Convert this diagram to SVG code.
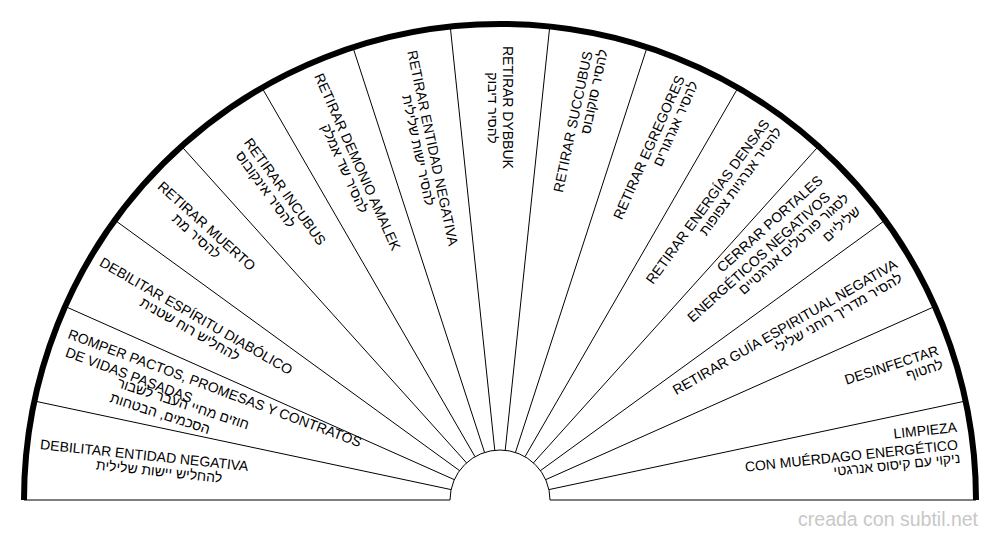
<svg xmlns="http://www.w3.org/2000/svg" width="1000" height="540" viewBox="0 0 1000 540">
<style>
.t{font-family:"Liberation Sans","DejaVu Sans",Arial,sans-serif;font-size:14px;fill:#000}
.s{text-anchor:start}.e{text-anchor:end}.m{text-anchor:middle}
.rad{stroke:#000;stroke-width:1;fill:none}
.base{stroke:#000;stroke-width:1;fill:none}
.rim{stroke:#000;stroke-width:6;fill:none}
.wm{font-family:"Liberation Sans",Arial,sans-serif;font-size:19.5px;fill:#c8c8c8;text-anchor:end}
</style>
<rect width="1000" height="540" fill="#fff"/>
<g id="frame">
<path class="base" d="M24 500H450M550 500H976"/>
<path class="base" d="M450 500A50 50 0 0 1 550 500"/>
</g>
<g id="connectors">
<path class="rad" d="M451.10 489.60L34.42 401.04M454.33 479.67L65.17 306.41M459.55 470.61L114.92 220.21M466.55 462.85L181.51 146.28M475 456.70L262 87.78M484.55 452.45L352.92 47.28M494.78 450.28L450.26 26.62M505.22 450.28L549.74 26.62M515.45 452.45L647.08 47.28M525 456.70L738 87.78M533.45 462.85L818.49 146.28M540.45 470.61L885.08 220.21M545.67 479.67L934.83 306.41M548.90 489.60L965.58 401.04"/>
</g>
<path id="rim" class="rim" d="M24 500A476 476 0 0 1 976 500"/>
<g id="n1" class="t" transform="translate(500 500) rotate(6)">
<text class="s" x="-463" y="-2.5">DEBILITAR ENTIDAD NEGATIVA</text>
<text class="m" x="-342" y="12">להחליש יישות שלילית</text>
</g>
<g id="n2" class="t">
<text class="s" transform="translate(67 338) rotate(20.5)">ROMPER PACTOS, PROMESAS Y CONTRATOS</text>
<text class="s" transform="translate(64.5 356) rotate(20.5)">DE VIDAS PASADAS</text>
<g transform="translate(500 500) rotate(18)">
<text class="m" x="-331" y="11">חוזים מחיי העבר לשבור</text>
<text class="m" x="-350" y="27.5">הסכמים, הבטחות</text>
</g>
</g>
<g id="n3" class="t" transform="translate(500 500) rotate(30)">
<text class="s" x="-465" y="-2.5">DEBILITAR ESPÍRITU DIABÓLICO</text>
<text class="m" x="-354" y="12">להחליש רוח שטנית</text>
</g>
<g id="n4" class="t" transform="translate(500 500) rotate(42)">
<text class="s" x="-464" y="-2.5">RETIRAR MUERTO</text>
<text class="m" x="-402" y="12">להסיר מת</text>
</g>
<g id="n5" class="t" transform="translate(500 500) rotate(54)">
<text class="s" x="-440" y="-2.5">RETIRAR INCUBUS</text>
<text class="m" x="-389" y="12">להסיר אינקובוס</text>
</g>
<g id="n6" class="t" transform="translate(500 500) rotate(66)">
<text class="s" x="-463" y="-2.5">RETIRAR DEMONIO AMALEK</text>
<text class="m" x="-366" y="12">להסיר שד אמלק</text>
</g>
<g id="n7" class="t" transform="translate(500 500) rotate(78)">
<text class="s" x="-458" y="-2.5">RETIRAR ENTIDAD NEGATIVA</text>
<text class="m" x="-359" y="12">להסיר ישות שלילית</text>
</g>
<g id="n8" class="t" transform="translate(500 500) rotate(90)">
<text class="s" x="-454" y="-2.5">RETIRAR DYBBUK</text>
<text class="m" x="-392" y="12">להסיר דיבוק</text>
</g>
<g id="n9" class="t" transform="translate(500 500) rotate(-78)">
<text class="e" x="457" y="-2.5">RETIRAR SUCCUBUS</text>
<text class="e" x="462" y="12">להסיר סוקובוס</text>
</g>
<g id="n10" class="t" transform="translate(500 500) rotate(-66)">
<text class="e" x="460.5" y="-2.5">RETIRAR EGREGORES</text>
<text class="e" x="461" y="12">להסיר אגרגורים</text>
</g>
<g id="n11" class="t" transform="translate(500 500) rotate(-54)">
<text class="e" x="463" y="-2.5">RETIRAR ENERGÍAS DENSAS</text>
<text class="e" x="464" y="12">להסיר אנרגיות צפופות</text>
</g>
<g id="n12" class="t" transform="translate(500 500) rotate(-42)">
<text class="e" x="453.5" y="-20">CERRAR PORTALES</text>
<text class="e" x="448" y="-2.5">ENERGÉTICOS NEGATIVOS</text>
<text class="e" x="461" y="11">לסגור פורטלים אנרגטיים</text>
<text class="e" x="461" y="28">שליליים</text>
</g>
<g id="n13" class="t" transform="translate(500 500) rotate(-30)">
<text class="e" x="461.4" y="-2.5">RETIRAR GUÍA ESPIRITUAL NEGATIVA</text>
<text class="e" x="459" y="12">להסיר מדריך רוחני שלילי</text>
</g>
<g id="n14" class="t" transform="translate(500 500) rotate(-18)">
<text class="e" x="463" y="-2.5">DESINFECTAR</text>
<text class="e" x="463" y="12">לחטוף</text>
</g>
<g id="n15" class="t" transform="translate(500 500) rotate(-6)">
<text class="e" x="462" y="-20">LIMPIEZA</text>
<text class="e" x="461" y="-2.5">CON MUÉRDAGO ENERGÉTICO</text>
<text class="e" x="462" y="11">ניקוי עם קיסוס אנרגטי</text>
</g>
<text class="wm" x="978" y="526">creada con subtil.net</text>
</svg>
